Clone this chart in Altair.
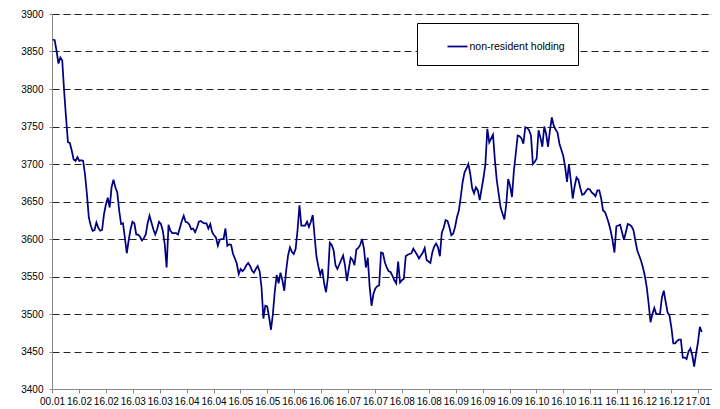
import altair as alt
import pandas as pd

SERIES = "non-resident holding"
X_LABELS = ["00.01", "16.02", "16.02", "16.03", "16.03", "16.04", "16.04", "16.05",
            "16.05", "16.06", "16.06", "16.07", "16.07", "16.08", "16.08", "16.09",
            "16.09", "16.09", "16.10", "16.10", "16.11", "16.11", "16.12", "16.12", "17.01"]
Y_TICKS = [3400, 3450, 3500, 3550, 3600, 3650, 3700, 3750, 3800, 3850, 3900]

VALUES_1 = [3866, 3865, 3851, 3834, 3842, 3838, 3797, 3762, 3729, 3728, 3718, 3706, 3704, 3709,
            3704, 3705, 3704, 3686, 3660, 3629, 3618, 3611, 3612, 3622, 3615, 3611, 3612, 3633,
            3646, 3655, 3642, 3669, 3679, 3669, 3662, 3638, 3620, 3621, 3602, 3581, 3598, 3613,
            3623, 3621, 3606, 3606, 3603, 3598, 3601, 3606, 3621, 3631, 3622, 3613, 3606, 3613,
            3623, 3620, 3611, 3593, 3562, 3619, 3611, 3608, 3608, 3608, 3606, 3615, 3624, 3631,
            3623, 3622, 3619, 3613, 3614, 3609, 3615, 3623, 3624, 3622, 3621, 3621]
VALUES_2 = [3614, 3620, 3609, 3605, 3602, 3591, 3599, 3600, 3600, 3614, 3591, 3593, 3592, 3580,
            3574, 3567, 3553, 3560, 3557, 3560, 3565, 3568, 3564, 3558, 3555, 3560, 3564, 3557,
            3536, 3494, 3511, 3510, 3496, 3479, 3500, 3530, 3552, 3541, 3555, 3545, 3531, 3558,
            3578, 3589, 3583, 3580, 3587, 3612, 3645, 3618, 3618, 3618, 3623, 3616, 3623, 3632,
            3603, 3576, 3563, 3552, 3560, 3541, 3529, 3549, 3595, 3592, 3585, 3565, 3560, 3566,
            3572, 3578, 3565, 3544, 3560, 3575, 3572, 3565, 3586, 3588, 3592, 3600, 3587, 3562, 3575]
VALUES_3 = [3536, 3511, 3527, 3534, 3537, 3538, 3582, 3581, 3569, 3562, 3557, 3556, 3551, 3545,
            3541, 3570, 3542, 3545, 3547, 3577, 3579, 3580, 3581, 3587, 3583, 3579, 3574, 3578,
            3582, 3588, 3572, 3570, 3568, 3582, 3590, 3594, 3589, 3577, 3608, 3615, 3625, 3624,
            3616, 3605, 3607, 3616, 3629, 3638, 3656, 3676, 3689, 3694, 3700, 3687, 3668, 3661,
            3669, 3665, 3652, 3667, 3682, 3700, 3747, 3729, 3734, 3739, 3705, 3678, 3660, 3642,
            3634, 3626, 3647, 3680, 3671, 3656, 3691, 3714, 3738, 3737, 3734, 3727, 3749, 3748,
            3745, 3738, 3700]
VALUES_4 = [3703, 3707, 3745, 3735, 3723, 3750, 3740, 3723, 3745, 3762, 3751, 3746, 3742, 3727,
            3719, 3711, 3696, 3676, 3700, 3678, 3654, 3670, 3682, 3679, 3668, 3659, 3660, 3664,
            3667, 3666, 3662, 3660, 3657, 3665, 3665, 3654, 3638, 3636, 3629, 3621, 3611, 3598,
            3582, 3617, 3618, 3619, 3609, 3599, 3609, 3620, 3619, 3617, 3612, 3598, 3585, 3578,
            3571, 3562, 3551, 3536, 3514, 3489, 3500, 3508, 3500, 3500, 3500, 3522, 3531, 3516,
            3502, 3498, 3482, 3461, 3461, 3464, 3466, 3466, 3442, 3442, 3440, 3450, 3454, 3445,
            3430, 3447, 3462, 3483, 3476]

values = VALUES_1 + VALUES_2 + VALUES_3 + VALUES_4
df = pd.DataFrame({"i": list(range(len(values))), "value": values, "series": SERIES})

TICK_START = -0.37
TICK_STEP = 14.18
tick_vals = [round(TICK_START + k * TICK_STEP, 3) for k in range(len(X_LABELS))]
label_arr = "[" + ",".join("'" + s + "'" for s in X_LABELS) + "]"
x_label_expr = label_arr + "[round((datum.value - (" + str(TICK_START) + "))/" + str(TICK_STEP) + ")]"

FONT = "Liberation Sans"

chart = alt.Chart(df).mark_line(strokeWidth=1.75, color="#000080").encode(
    x=alt.X("i:Q",
            scale=alt.Scale(domain=[-0.4, 347.4], nice=False, zero=False),
            axis=alt.Axis(values=tick_vals, labelExpr=x_label_expr, title=None, grid=False,
                          labelOverlap=False, labelFlush=False, labelBound=False,
                          labelFontSize=10, tickSize=4, labelPadding=3, labelAngle=0)),
    y=alt.Y("value:Q",
            scale=alt.Scale(domain=[3400, 3900], nice=False, zero=False),
            axis=alt.Axis(values=Y_TICKS, title=None, grid=True, gridDash=[7, 4],
                          gridColor="#222222", gridWidth=1, labelFontSize=10,
                          tickSize=3, labelPadding=6, format="d")),
    color=alt.Color("series:N",
                    scale=alt.Scale(domain=[SERIES], range=["#000080"]),
                    legend=alt.Legend(title=None, orient="none", legendX=365, legendY=9,
                                      symbolType="stroke", symbolSize=400,
                                      symbolStrokeWidth=1.75, padding=12.5,
                                      strokeColor="black", fillColor="white",
                                      symbolOffset=17, labelOffset=1, labelFontSize=10.5,
                                      labelFont=FONT, labelColor="black")),
).properties(
    width=660, height=375,
    autosize=alt.AutoSizeParams(type="none"),
    padding={"left": 44, "top": 6, "right": 0, "bottom": 18},
).configure_view(stroke=None).configure_axis(
    domainColor="black", tickColor="black", labelColor="black", labelFont=FONT,
    domainWidth=1, tickWidth=1,
).configure(background="white")

chart.save("out.html", embed_options={"renderer": "svg", "actions": False})
